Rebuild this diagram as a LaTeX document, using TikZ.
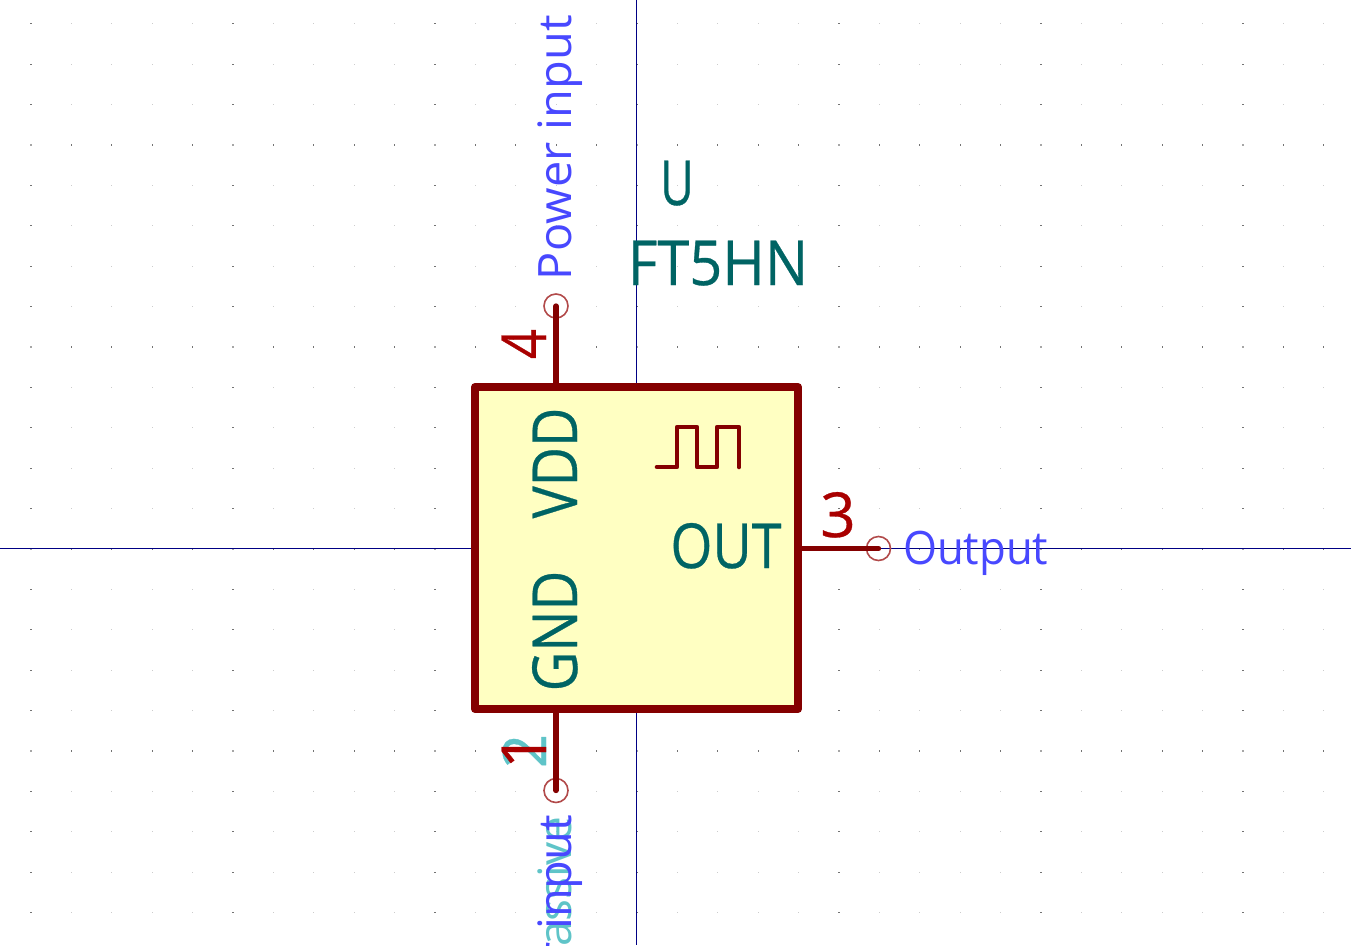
\documentclass[tikz,border=0pt]{standalone}
\usepackage{fontspec}
\setmainfont{Open Sans}
\newfontfamily\heavyf[FakeBold=0.5]{Open Sans}
\definecolor{axisblue}{HTML}{000084}
\definecolor{bodyred}{HTML}{840000}
\definecolor{numred}{HTML}{A90000}
\definecolor{nameteal}{HTML}{006464}
\definecolor{typeblue}{HTML}{4848FF}
\definecolor{hiddenteal}{HTML}{5FC4C8}
\definecolor{bodyfill}{HTML}{FFFFC2}
\definecolor{pinring}{HTML}{B24A4A}
\tikzset{
  lbl/.style={inner sep=0pt,outer sep=0pt},
  pinline/.style={draw=bodyred,line width=5.3pt,line cap=round},
  pinring/.style={circle,draw=pinring,line width=1.6pt,minimum size=24pt,inner sep=0pt,outer sep=0pt},
}
\newcommand{\sq}[2]{\scalebox{#1}[1]{#2}}
\begin{document}
\begin{tikzpicture}[x=1pt,y=-1pt]
\useasboundingbox (0,0) rectangle (1351,945);
\fill[white] (0,0) rectangle (1351,945);
% grid dots
\foreach \i in {-15,...,17}{
  \foreach \j in {-13,...,9}{
    \pgfmathsetmacro{\gx}{637+40.4*\i}
    \pgfmathsetmacro{\gy}{549+40.4*\j}
    \pgfmathtruncatemacro{\mi}{mod(\i+50,5)}
    \pgfmathtruncatemacro{\mj}{mod(\j+50,5)}
    \ifnum\mi=0
      \ifnum\mj=0
        \fill[black!35] (\gx-1,\gy-1) rectangle (\gx+1,\gy+1);
      \else
        \fill[black!55] (\gx-1,\gy-.5) rectangle (\gx+1,\gy+.5);
      \fi
    \else
      \ifnum\mj=0
        \fill[black!55] (\gx-.5,\gy-1) rectangle (\gx+.5,\gy+1);
      \else
        \fill[black!20] (\gx-.5,\gy-.5) rectangle (\gx+.5,\gy+.5);
      \fi
    \fi
  }
}
% axes
\coordinate (axL) at (0,548.5);
\coordinate (axR) at (1351,548.5);
\coordinate (axT) at (636.5,0);
\coordinate (axB) at (636.5,945);
\draw[axisblue,line width=1pt] (axL) -- (axR);
\draw[axisblue,line width=1pt] (axT) -- (axB);
% body
\node[draw=bodyred,fill=bodyfill,line width=8pt,line join=round,minimum width=323pt,minimum height=322pt,inner sep=0pt,outer sep=0pt] (body) at (636.5,548) {};
% pin ends
\node[pinring] (p4) at (556,306) {};
\node[pinring] (p12) at (556,790.5) {};
\node[pinring] (p3) at (878.5,548.5) {};
% pins
\draw[pinline] (body.north -| p4) -- (p4.center);
\draw[pinline] (body.south -| p12) -- (p12.center);
\draw[pinline] (body.east |- p3) -- (p3.center);
% waveform
\coordinate (w0) at (657,467);
\draw[draw=bodyred,line width=4.6pt,line cap=round,line join=round] (w0) -- (677,467) -- (677,427) -- (697,427) -- (697,467) -- (717,467) -- (717,427) -- (739,427) -- (739,467);
% hidden text
\node[lbl,rotate=90,anchor=base east,text=hiddenteal,font=\fontsize{46}{46}\selectfont] (t2) at (571,817) {\sq{1}{Passive}};
\node[lbl,rotate=90,anchor=base,text=hiddenteal,font=\heavyf\fontsize{60}{60}\selectfont] (n2) at (546,751) {2};
% blue type labels
\node[lbl,rotate=90,anchor=base west,text=typeblue,font=\fontsize{46}{46}\selectfont] (t4) at (571,280) {\sq{1.02}{Power input}};
\node[lbl,rotate=90,anchor=base east,text=typeblue,font=\fontsize{46}{46}\selectfont] (t1) at (571,815) {\sq{1.02}{Power input}};
\node[lbl,anchor=base west,text=typeblue,font=\fontsize{46}{46}\selectfont] (t3) at (903,564) {\sq{0.95}{Output}};
% numbers
\node[lbl,rotate=90,anchor=base,text=numred,font=\heavyf\fontsize{62}{62}\selectfont] (n4) at (546,344) {\sq{0.85}{4}};
\node[lbl,rotate=90,anchor=base,text=numred,font=\heavyf\fontsize{62}{62}\selectfont] (n1) at (546,751) {1};
\node[lbl,anchor=base,text=numred,font=\heavyf\fontsize{62}{62}\selectfont] (n3) at (838,537) {3};
% names
\node[lbl,rotate=90,anchor=base,text=nameteal,font=\heavyf\fontsize{62}{62}\selectfont] (vdd) at (577,463) {\sq{0.87}{VDD}};
\node[lbl,rotate=90,anchor=base,text=nameteal,font=\heavyf\fontsize{62}{62}\selectfont] (gnd) at (577,631) {\sq{0.88}{GND}};
\node[lbl,anchor=base,text=nameteal,font=\heavyf\fontsize{62}{62}\selectfont] (out) at (726,568) {\sq{0.87}{OUT}};
\node[lbl,anchor=base,text=nameteal,font=\heavyf\fontsize{62}{62}\selectfont] (ref) at (677,205) {\sq{0.75}{U}};
\node[lbl,anchor=base,text=nameteal,font=\heavyf\fontsize{62}{62}\selectfont] (val) at (718,285) {\sq{0.93}{FT5HN}};
\end{tikzpicture}
\end{document}
